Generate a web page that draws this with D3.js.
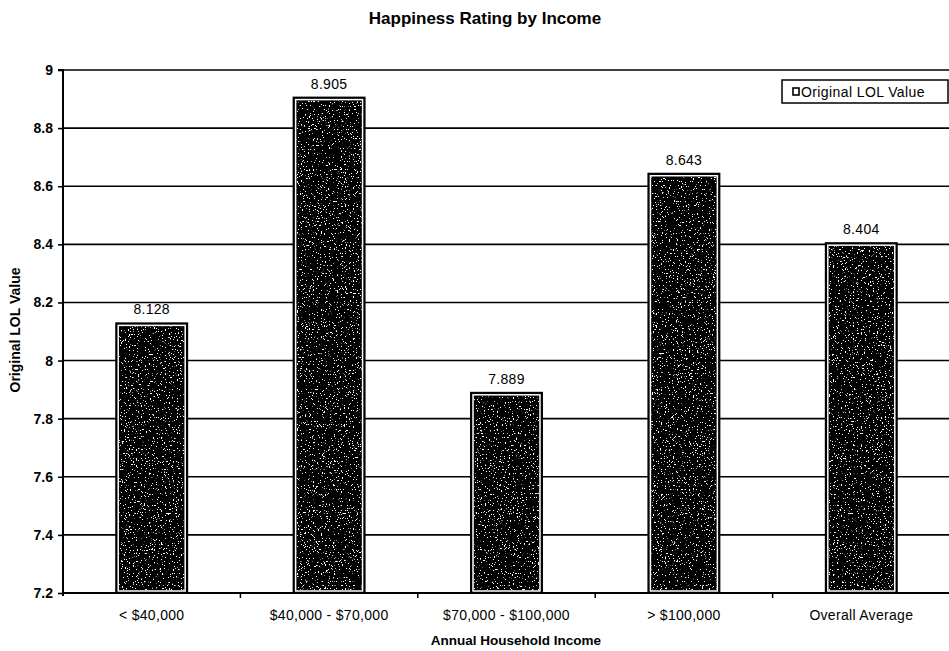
<!DOCTYPE html>
<html><head><meta charset="utf-8">
<script src="https://cdn.jsdelivr.net/npm/d3@7"></script>
<style>body{margin:0;background:#fff}svg{display:block}text{font-family:"Liberation Sans",Arial,sans-serif;fill:#000}</style>
</head><body><svg id="c" width="949" height="651"></svg>
<script>
const categories = ["< $40,000", "$40,000 - $70,000", "$70,000 - $100,000", "> $100,000", "Overall Average"];
const values = [8.128, 8.905, 7.889, 8.643, 8.404];
const valueLabels = ["8.128", "8.905", "7.889", "8.643", "8.404"];
const yTicks = [7.2, 7.4, 7.6, 7.8, 8, 8.2, 8.4, 8.6, 8.8, 9];
const seriesName = "Original LOL Value";

const svg = d3.select("#c");
const m = {l: 63};
const W = 949;
const x = d3.scaleBand().domain(categories).range([m.l, 950]).paddingInner(0).paddingOuter(0);
const y = d3.scaleLinear().domain([7.2, 9]).range([593, 70]);

const defs = svg.append("defs");
const f = defs.append("filter").attr("id","speck").attr("x","0").attr("y","0").attr("width","1").attr("height","1");
f.append("feTurbulence").attr("type","fractalNoise").attr("baseFrequency","0.75").attr("numOctaves","2").attr("seed","7").attr("result","n");
f.append("feColorMatrix").attr("in","n").attr("type","matrix")
  .attr("values","0 0 0 0 1  0 0 0 0 1  0 0 0 0 1  22 0 0 0 -14.2").attr("result","dots");
f.append("feComposite").attr("in","dots").attr("in2","SourceGraphic").attr("operator","in");

// gridlines
svg.append("g").selectAll("line").data(yTicks.slice(1)).join("line")
  .attr("x1", m.l).attr("x2", W).attr("y1", d=>y(d)).attr("y2", d=>y(d))
  .attr("stroke","#000").attr("stroke-width",1.6);

// bars
const bw = x.bandwidth()*0.4;
const bx = i => x(categories[i])+x.bandwidth()/2-bw/2;
const bars = svg.append("g").selectAll("g").data(values).join("g");
bars.append("rect")
  .attr("x",(d,i)=>bx(i)).attr("y",d=>y(d)).attr("width",bw).attr("height",d=>y(7.2)-y(d))
  .attr("fill","#000").attr("stroke","#000").attr("stroke-width",2);
bars.append("rect")
  .attr("x",(d,i)=>bx(i)+2).attr("y",d=>y(d)+2).attr("width",bw-4).attr("height",d=>y(7.2)-y(d)-4)
  .attr("fill","#000").attr("stroke","#fff").attr("stroke-width",1.5);
bars.append("rect")
  .attr("x",(d,i)=>bx(i)+3).attr("y",d=>y(d)+3).attr("width",bw-6).attr("height",d=>y(7.2)-y(d)-6)
  .attr("fill","#000").attr("filter","url(#speck)");
bars.append("text")
  .attr("x",(d,i)=>x(categories[i])+x.bandwidth()/2)
  .attr("y",d=>y(d)-9).attr("text-anchor","middle")
  .attr("font-size","14px").attr("letter-spacing","0.3px").text((d,i)=>valueLabels[i]);

// y axis
const ya = svg.append("g").attr("transform",`translate(${m.l},0)`)
  .call(d3.axisLeft(y).tickValues(yTicks).tickSize(5).tickPadding(5).tickFormat(d3.format("")));
ya.select(".domain").attr("stroke","#000").attr("stroke-width",2).attr("d",`M-5,${y(9)}H0V${y(7.2)+3}`);
ya.selectAll(".tick line").attr("stroke","#000").attr("stroke-width",1.6);
ya.selectAll(".tick text").attr("font-size","14px").attr("font-weight","bold").attr("font-family","Liberation Sans, Arial, sans-serif").attr("fill","#000");

// x axis
const xa = svg.append("g").attr("transform",`translate(0,${y(7.2)})`)
  .call(d3.axisBottom(x).tickSize(0).tickPadding(17));
xa.select(".domain").remove();
svg.append("line").attr("x1",m.l).attr("x2",W).attr("y1",y(7.2)).attr("y2",y(7.2)).attr("stroke","#000").attr("stroke-width",2);
xa.selectAll(".tick text").attr("font-size","14px").attr("letter-spacing","0.3px").attr("font-family","Liberation Sans, Arial, sans-serif").attr("fill","#000");
svg.append("g").selectAll("line").data(categories.slice(1)).join("line")
  .attr("x1",d=>x(d)).attr("x2",d=>x(d)).attr("y1",y(7.2)).attr("y2",y(7.2)+5)
  .attr("stroke","#000").attr("stroke-width",1.5);

// titles
svg.append("text").attr("x",485).attr("y",24).attr("text-anchor","middle")
  .attr("font-size","17px").attr("font-weight","bold").text("Happiness Rating by Income");
svg.append("text").attr("x",516).attr("y",645).attr("text-anchor","middle")
  .attr("font-size","13.5px").attr("font-weight","bold").text("Annual Household Income");
svg.append("text").attr("transform","translate(20,330) rotate(-90)").attr("text-anchor","middle")
  .attr("font-size","14px").attr("font-weight","bold").text("Original LOL Value");

// legend
const lg = svg.append("g").attr("transform","translate(782,80)");
lg.append("rect").attr("width",166).attr("height",23).attr("fill","#fff").attr("stroke","#000").attr("stroke-width",1.5);
lg.append("rect").attr("x",11).attr("y",8).attr("width",6).attr("height",7).attr("fill","#fff").attr("stroke","#000").attr("stroke-width",1.6);
lg.append("text").attr("x",19).attr("y",16.5).attr("font-size","14px").attr("letter-spacing","0.4px").text(seriesName);
</script></body></html>
